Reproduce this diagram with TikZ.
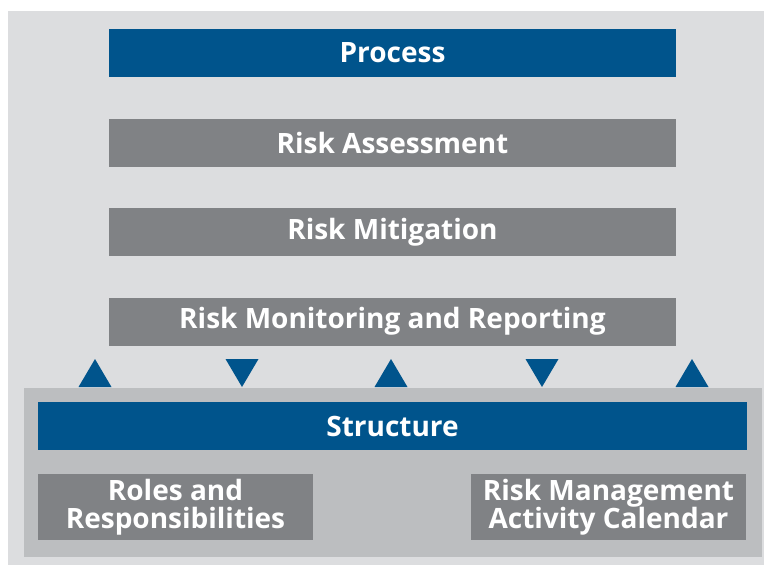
\documentclass[tikz,border=0pt]{standalone}
\usepackage{fontspec}
\setmainfont{Open Sans}
\usetikzlibrary{positioning}
\definecolor{riskblue}{RGB}{0,84,140}
\definecolor{riskgrey}{RGB}{128,130,133}
\definecolor{bggrey}{RGB}{220,221,223}
\definecolor{framegrey}{RGB}{188,190,192}

\begin{document}
\begin{tikzpicture}[x=0.75pt,y=-0.75pt,node distance=30.75pt,
  every node/.style={text=white,font=\bfseries\fontsize{21}{21}\selectfont,align=center,inner sep=0pt},
  bluebar/.style={fill=riskblue,minimum width=425.25pt,minimum height=36pt},
  greybar/.style={fill=riskgrey,minimum width=425.25pt,minimum height=36pt},
  greybox/.style={fill=riskgrey,minimum width=206.25pt,minimum height=49.5pt}]
  \useasboundingbox (0,0) rectangle (764,565);
  \fill[bggrey] (8,11) rectangle (764,565);
  \fill[framegrey] (24,388) rectangle (762,557);
  % process side
  \node[bluebar] (process) at (392.5,53) {Process};
  \node[greybar,below=of process] (assess) {Risk Assessment};
  \node[greybar,below=of assess] (mitig) {Risk Mitigation};
  \node[greybar,below=of mitig] (monit) {Risk Monitoring and Reporting};
  % up and down markers
  \foreach \x/\tip/\base in {95/359/387,242/387/359,391/359/387,542/387/359,692/359/387}
    \fill[riskblue] (\x-16.5,\base) -- (\x+16.5,\base) -- (\x,\tip) -- cycle;
  % structure side
  \node[bluebar,minimum width=531.75pt] (struct) at (392.5,426) {Structure};
  \node[greybox] (roles) at (175.5,507) {Roles and\\Responsibilities};
  \node[greybox] (calendar) at (608.5,507) {Risk Management\\Activity Calendar};
\end{tikzpicture}
\end{document}
